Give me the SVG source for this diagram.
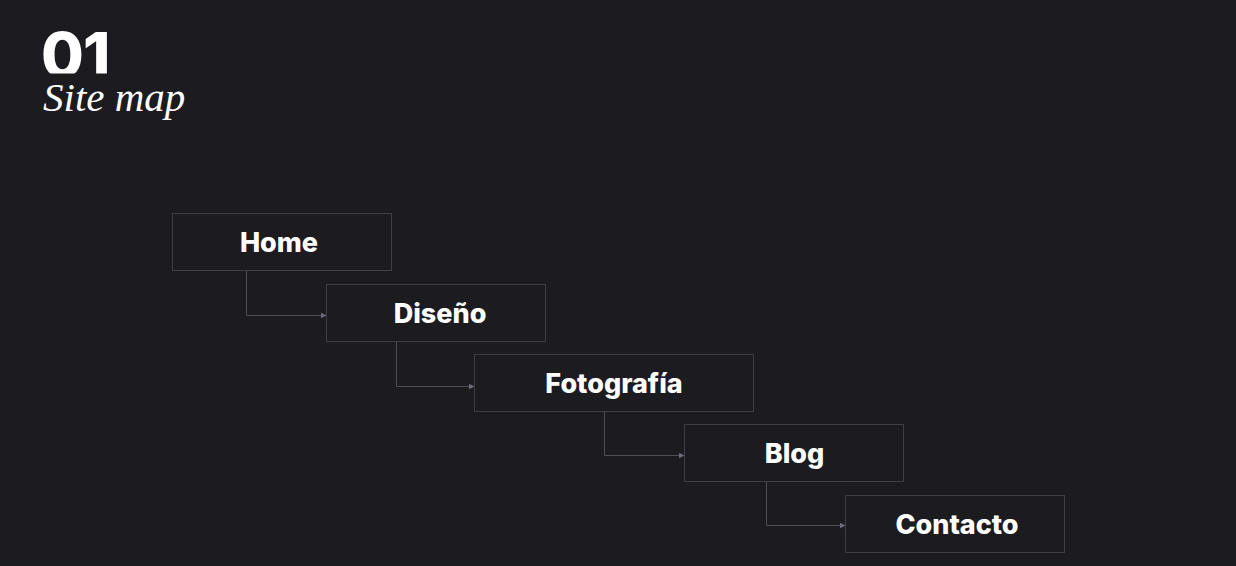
<svg xmlns="http://www.w3.org/2000/svg" width="1236" height="566" viewBox="0 0 1236 566">
<defs>
<style>
.box{fill:#1c1b20;stroke:#3f3d45;stroke-width:1}
.lbl{font-family:Inter,"Noto Sans",sans-serif;font-weight:800;font-size:27px;fill:#ffffff;text-anchor:middle}
.conn{fill:none;stroke:#4f4d57;stroke-width:1}
</style>
<marker id="arr" viewBox="0 0 6 6" refX="5.5" refY="3" markerWidth="6" markerHeight="6" markerUnits="userSpaceOnUse" orient="auto">
<path d="M0,0 L6,3 L0,6 Z" fill="#6e6b7a"/>
</marker>
<clipPath id="clip01"><rect x="0" y="0" width="300" height="73.5"/></clipPath>
</defs>
<rect width="1236" height="566" fill="#1c1b20"/>
<g id="title">
<text x="41" y="77" clip-path="url(#clip01)" font-family="Inter,'Noto Sans',sans-serif" font-weight="800" font-size="62" fill="#ffffff" letter-spacing="-1">01</text>
<text x="43" y="111" font-family="'Liberation Serif',serif" font-style="italic" font-size="41" fill="#ffffff">Site map</text>
</g>
<g id="connectors">
<path class="conn" d="M246.5,270.5 V315.5 H326" marker-end="url(#arr)"/>
<path class="conn" d="M396.5,341.5 V386.5 H474" marker-end="url(#arr)"/>
<path class="conn" d="M604.5,411.5 V455.5 H684" marker-end="url(#arr)"/>
<path class="conn" d="M766.5,481.5 V525.5 H845" marker-end="url(#arr)"/>
</g>
<g id="home"><rect class="box" x="172.5" y="213.5" width="219" height="57"/><text class="lbl" x="279" y="251.5">Home</text></g>
<g id="diseno"><rect class="box" x="326.5" y="284.5" width="219" height="57"/><text class="lbl" x="440" y="322.5">Diseño</text></g>
<g id="fotografia"><rect class="box" x="474.5" y="354.5" width="279" height="57"/><text class="lbl" x="614" y="392.5">Fotografía</text></g>
<g id="blog"><rect class="box" x="684.5" y="424.5" width="219" height="57"/><text class="lbl" x="794.5" y="462.5">Blog</text></g>
<g id="contacto"><rect class="box" x="845.5" y="495.5" width="219" height="57"/><text class="lbl" x="957" y="533.5">Contacto</text></g>
</svg>
